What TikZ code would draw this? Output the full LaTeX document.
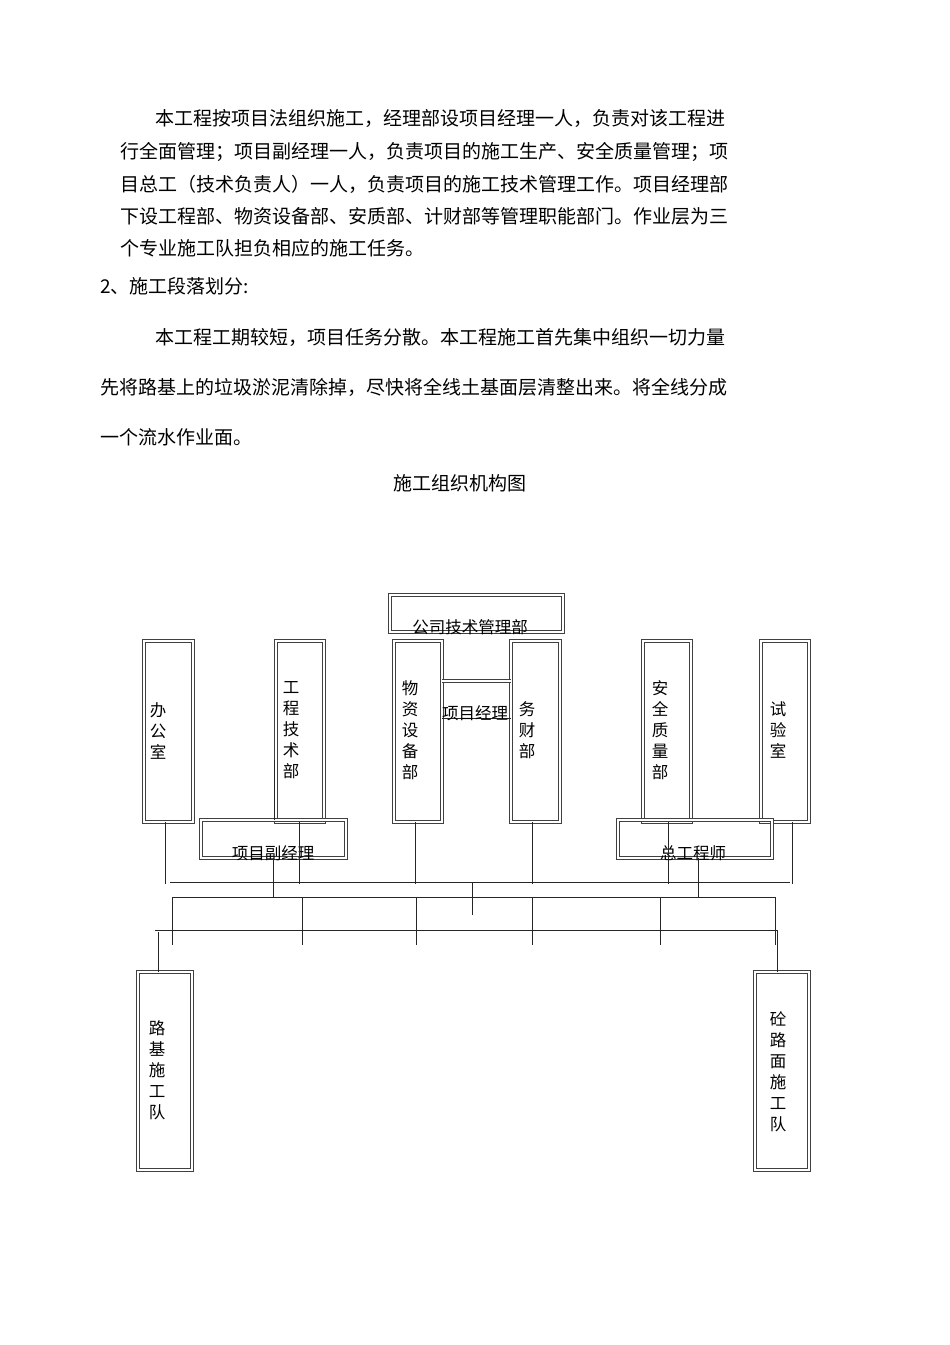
\documentclass[tikz,border=0pt]{standalone}
\usepackage{fontspec}
\setmainfont{Noto Sans CJK SC}
\begin{document}
\begin{tikzpicture}[x=1pt,y=-1pt,
  para/.style={anchor=west,inner sep=0,font=\fontsize{19}{21}\selectfont},
  lbl/.style={inner sep=0,font=\fontsize{16.5}{21}\selectfont,align=center},
  box/.style={draw=black!75,double=white,double distance=1.6pt,line width=0.8pt},
  ln/.style={draw=black!85,line width=0.8pt}]
\useasboundingbox (0,0) rectangle (950,1345);
\node[para] (p1) at (155,118) {本工程按项目法组织施工，经理部设项目经理一人，负责对该工程进};
\node[para] (p2) at (120,152) {行全面管理；项目副经理一人，负责项目的施工生产、安全质量管理；项};
\node[para] (p3) at (120,184) {目总工（技术负责人）一人，负责项目的施工技术管理工作。项目经理部};
\node[para] (p4) at (120,216) {下设工程部、物资设备部、安质部、计财部等管理职能部门。作业层为三};
\node[para] (p5) at (120,248) {个专业施工队担负相应的施工任务。};
\node[para] (p6) at (100,286) {2、施工段落划分:};
\node[para] (p7) at (155,337) {本工程工期较短，项目任务分散。本工程施工首先集中组织一切力量};
\node[para] (p8) at (100,387) {先将路基上的垃圾淤泥清除掉，尽快将全线土基面层清整出来。将全线分成};
\node[para] (p9) at (100,437) {一个流水作业面。};
\node[para,anchor=center] (ttl) at (460,483) {施工组织机构图};
% boxes
\path[box] (390,595) rectangle (563,632);
\path[box] (144,641) rectangle (193,822);
\path[box] (276,641) rectangle (324,822);
\path[box] (394,641) rectangle (442,822);
\path[box] (511,641) rectangle (560,822);
\path[box] (643,641) rectangle (691,822);
\path[box] (761,641) rectangle (809,822);
\path[box] (201,820) rectangle (346,858);
\path[box] (618,820) rectangle (772,858);
\path[box] (138,972) rectangle (192,1170);
\path[box] (755,972) rectangle (809,1170);
\path[box] (442,681) -- (511,681);
\draw[ln] (442,718) -- (511,718);
% labels
\node[lbl] (gs) at (470,627) {公司技术管理部};
\node[lbl] (bgs) at (158,731) {办\\公\\室};
\node[lbl] (gcj) at (291,730) {工\\程\\技\\术\\部};
\node[lbl] (wz) at (410,730) {物\\资\\设\\备\\部};
\node[lbl] (cw) at (527,730) {务\\财\\部};
\node[lbl] (aq) at (660,730) {安\\全\\质\\量\\部};
\node[lbl] (sy) at (778,730) {试\\验\\室};
\node[lbl] (xmjl) at (475,713) {项目经理};
\node[lbl] (fjl) at (273,853) {项目副经理};
\node[lbl] (zgs) at (693,853) {总工程师};
\node[lbl] (lj) at (157,1070) {路\\基\\施\\工\\队};
\node[lbl] (tl) at (778,1072) {砼\\路\\面\\施\\工\\队};
% connectors
\coordinate (h1l) at (170,882); \coordinate (h1r) at (790,882);
\draw[ln] (h1l) -- (h1r);
\draw[ln] (172,897) -- (775,897);
\draw[ln] (155,930) -- (778,930);
\draw[ln] (274,760) -- (274,820);
\foreach \x/\b in {165/822,299/822,415/822,532/822,668/822,792/822}
  \draw[ln] (\x,\b) -- (\x,884);
\draw[ln] (273,858) -- (273,897);
\draw[ln] (698,858) -- (698,897);
\draw[ln] (472,882) -- (472,915);
\foreach \x in {172,302,416,532,660,775}
  \draw[ln] (\x,897) -- (\x,945);
\draw[ln] (158,932) -- (158,972);
\draw[ln] (777,930) -- (777,972);
\end{tikzpicture}
\end{document}
